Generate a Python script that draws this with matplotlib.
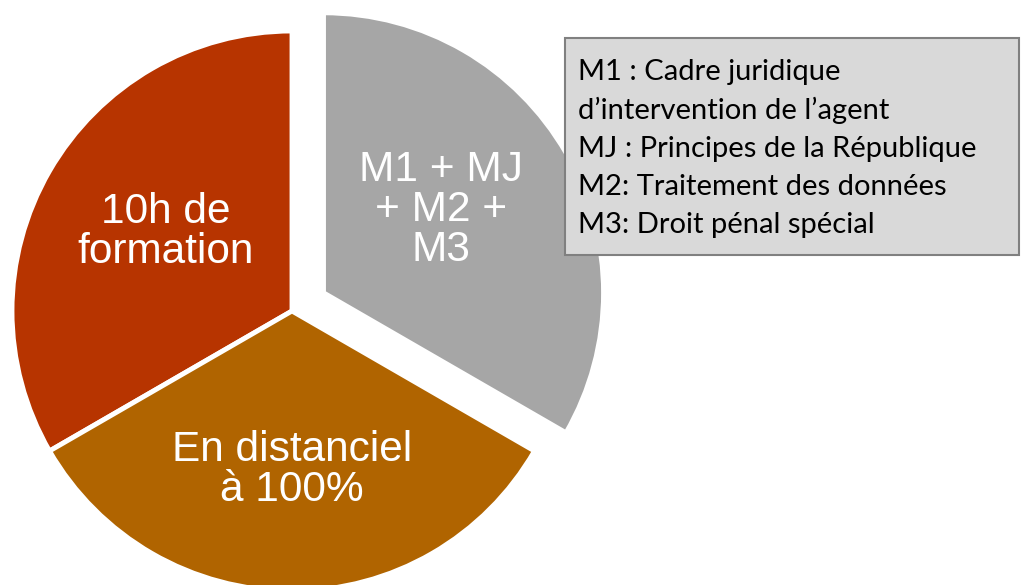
import matplotlib
matplotlib.use("Agg")
import matplotlib.pyplot as plt
from matplotlib.patches import Rectangle

# Data
categories = ["10h de\nformation", "En distanciel\nà 100%", "M1 + MJ\n+ M2 +\nM3"]
values = [1, 1, 1]
colors = ["#B73400", "#B06400", "#A6A6A6"]
explode_frac = [0, 0, 0.13]
legend_lines = [
    "M1 : Cadre juridique",
    "d\u2019intervention de l\u2019agent",
    "MJ : Principes de la République",
    "M2: Traitement des données",
    "M3: Droit pénal spécial",
]

W, H = 1022, 585
fig = plt.figure(figsize=(W / 100, H / 100), dpi=100)
ax = fig.add_axes([0, 0, 1, 1])

cx, cy, r = 292, H - 311, 280
wedges, _ = ax.pie(values, colors=colors, startangle=90, counterclock=True,
                   explode=[e * r for e in explode_frac], radius=r, center=(cx, cy),
                   frame=True,
                   wedgeprops=dict(edgecolor="white", linewidth=3.5))
ax.set_xlim(0, W)
ax.set_ylim(0, H)
ax.set_aspect("equal")
ax.axis("off")

label_pos = [(166, 232), (292, 470), (441, 210)]
for txt, (x, y) in zip(categories, label_pos):
    ax.text(x, H - y, txt, ha="center", va="center", color="white",
            fontsize=30.5, family="Liberation Sans", linespacing=1.0)

# Legend box
bx0, by0, bx1, by1 = 565, 38, 1019, 255
ax.add_patch(Rectangle((bx0, H - by1), bx1 - bx0, by1 - by0,
                       facecolor="#D9D9D9", edgecolor="#808080", linewidth=1.5, zorder=5))
line_y = [72, 110, 149, 187, 225]
for txt, y in zip(legend_lines, line_y):
    ax.text(578, H - y, txt, ha="left", va="center", color="black",
            fontsize=21, family="Lato", zorder=6)

fig.savefig("out.png", dpi=100)
